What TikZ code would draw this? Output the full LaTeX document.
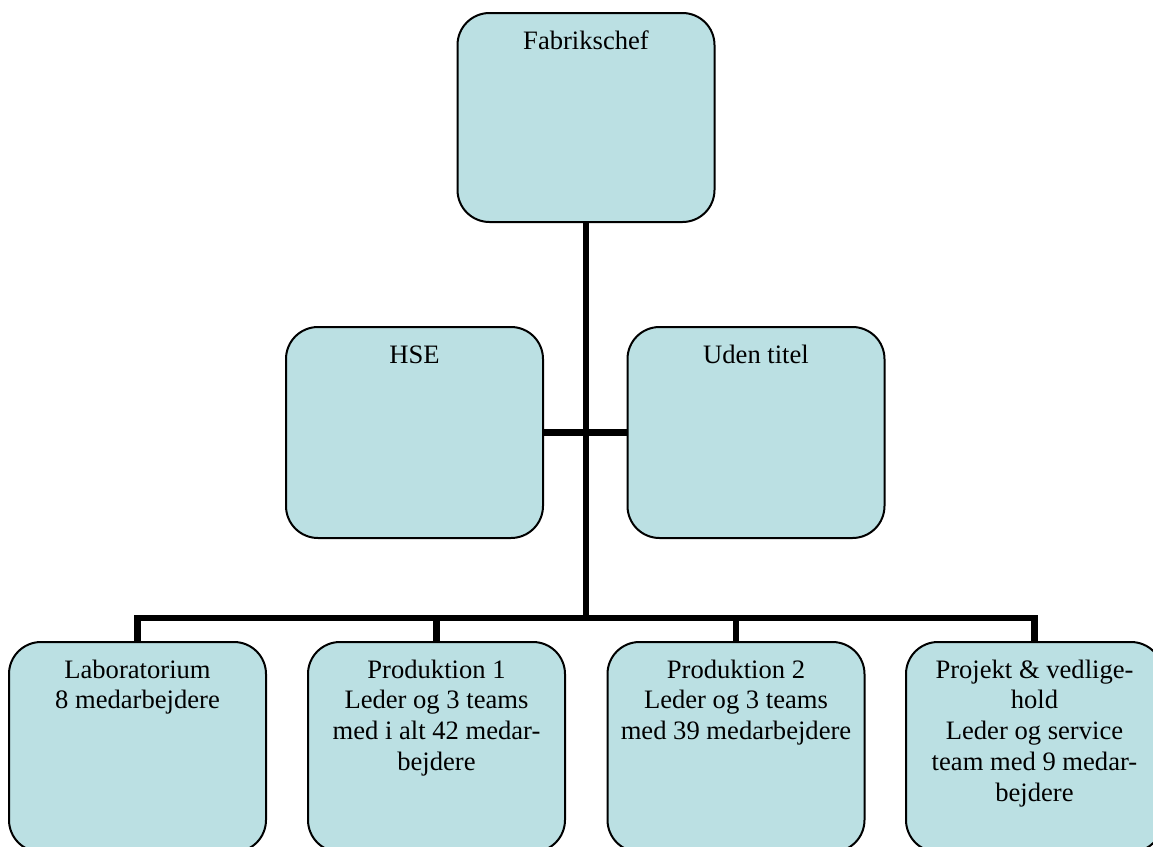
\documentclass[tikz,border=0pt]{standalone}
\usepackage{fontspec}
\setmainfont{Liberation Serif}
\definecolor{unitfill}{RGB}{187,224,227}
\newcommand{\unittext}[2]{\parbox[c][#1][t]{124pt}{\centering\rule{0pt}{18pt}#2}}
\begin{document}
\begin{tikzpicture}[
  x=0.5pt, y=-0.5pt,
  unit/.style={draw, fill=unitfill, line width=1pt, rounded corners=16pt,
    inner sep=0pt, minimum width=128.5pt, font=\fontsize{13.3}{15.4}\selectfont},
  link/.style={draw, line width=3.3pt}
]
\useasboundingbox (0,0) rectangle (1153,847);
% top
\node[unit] (fab) at (586,117.5) {\unittext{104.5pt}{Fabrikschef}};
% staff
\node[unit] (hse)  at (414.5,432.5) {\unittext{105.5pt}{HSE}};
\node[unit] (uden) at (756,432.5)   {\unittext{105.5pt}{Uden titel}};
% departments
\node[unit] (lab)  at (137.5,747) {\unittext{105pt}{Laboratorium\\8 medarbejdere}};
\node[unit] (prod1) at (436.5,747) {\unittext{105pt}{Produktion 1\\Leder og 3 teams\\med i alt 42 medar-\\bejdere}};
\node[unit] (prod2) at (736,747) {\unittext{105pt}{Produktion 2\\Leder og 3 teams\\med 39 medarbejdere}};
\node[unit] (proj) at (1034.5,747) {\unittext{105pt}{Projekt \& vedlige-\\hold\\Leder og service\\team med 9 medar-\\bejdere}};
\coordinate (bus) at (586,618);
\draw[link] (fab.south) -- (bus);
\draw[link] (hse.east) -- (uden.west);
\draw[link] (lab.north) |- (proj.north |- bus) -- (proj.north);
\draw[link] (prod1.north) -- (prod1.north |- bus);
\draw[link] (prod2.north) -- (prod2.north |- bus);
\end{tikzpicture}
\end{document}
